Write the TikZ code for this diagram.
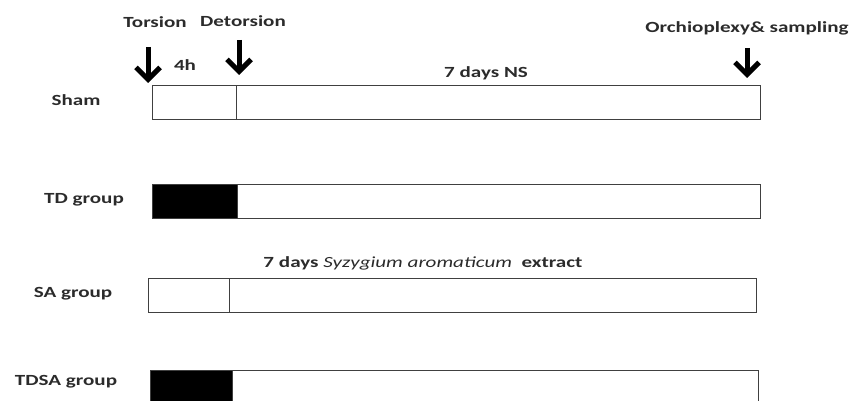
\documentclass[tikz,border=0pt]{standalone}
\usepackage{fontspec}
\newfontfamily\lblfont[FakeStretch=1.36]{Carlito}
\usetikzlibrary{arrows.meta, positioning}
\definecolor{barline}{HTML}{404040}
\definecolor{lbltext}{HTML}{2B2B2B}

\begin{document}
\begin{tikzpicture}[x=1pt, y=-1pt, line width=1.4pt,
  lbl/.style={font=\lblfont\bfseries\fontsize{15.5}{17}\selectfont, text=lbltext, inner sep=0pt},
  phasebox/.style={draw=barline, fill=#1, minimum height=34pt, inner sep=0pt, anchor=north west},
  timearrow/.style={-{Straight Barb[length=12pt, width=24pt]}, line width=5pt, black}
]
\useasboundingbox (0,0) rectangle (854,401);

% Event labels
\node[lbl] (torsion) at (155,22) {Torsion};
\node[lbl] (detorsion) at (243,21) {Detorsion};
\node[lbl] (orchio) at (747,28) {Orchioplexy\& sampling};
\node[lbl] (fourh) at (185,65) {4h};
\node[lbl] (ns) at (486,73) {7 days NS};
\node[lbl] (extract) at (423,263) {7 days {\mdseries\itshape Syzygium aromaticum} \ extract};

% Group labels
\node[lbl] (sham-lbl) at (76,100) {Sham};
\node[lbl] (td-lbl) at (84,200) {TD group};
\node[lbl] (sa-lbl) at (73,294) {SA group};
\node[lbl] (tdsa-lbl) at (66,382) {TDSA group};

% Sham
\node[phasebox=white, minimum width=84pt] (sham-a) at (152,85) {};
\node[phasebox=white, minimum width=524pt] (sham-b) at (236,85) {};

% TD group
\node[phasebox=black, minimum width=85pt] (td-a) at (152,184) {};
\node[phasebox=white, minimum width=523pt] (td-b) at (237,184) {};

% SA group
\node[phasebox=white, minimum width=81pt] (sa-a) at (148,278) {};
\node[phasebox=white, minimum width=527pt] (sa-b) at (229,278) {};

% TDSA group
\node[phasebox=black, minimum width=82pt] (tdsa-a) at (150,370) {};
\node[phasebox=white, minimum width=526pt] (tdsa-b) at (232,370) {};

% Arrows
\coordinate (torsion-top) at (148,47);
\coordinate (torsion-tip) at (148,83);
\coordinate (detorsion-top) at (239,40);
\coordinate (detorsion-tip) at (239,75);
\coordinate (orchio-top) at (747,48);
\coordinate (orchio-tip) at (747,78);
\draw[timearrow] (torsion-top) -- (torsion-tip);
\draw[timearrow] (detorsion-top) -- (detorsion-tip);
\draw[timearrow] (orchio-top) -- (orchio-tip);

\end{tikzpicture}
\end{document}
